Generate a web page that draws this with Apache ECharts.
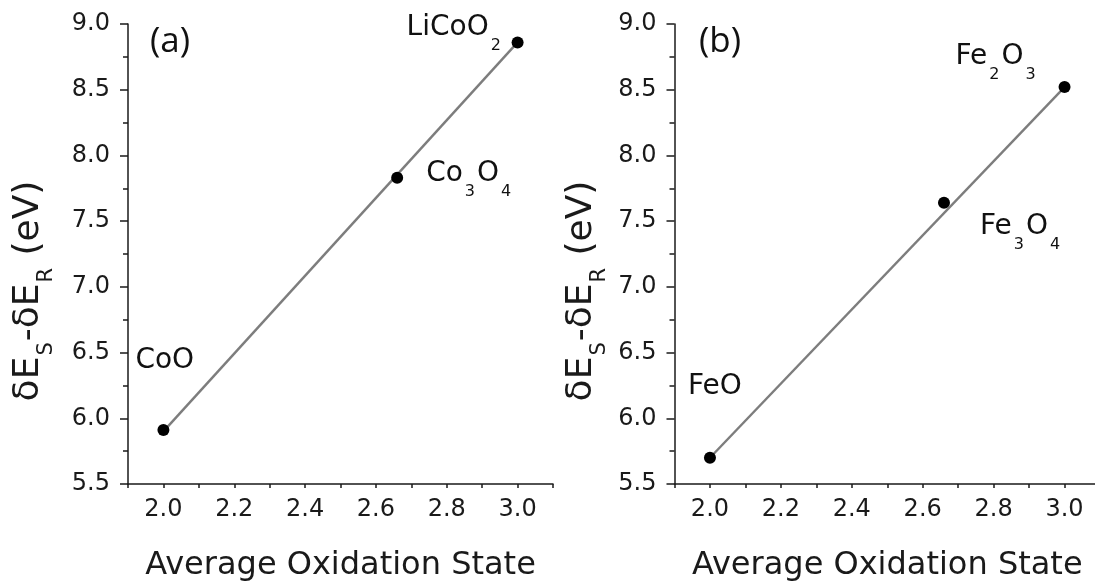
<!DOCTYPE html>
<html><head><meta charset="utf-8">
<script src="https://cdn.jsdelivr.net/npm/echarts@6/dist/echarts.min.js"></script>
<style>html,body{margin:0;padding:0;background:#fff}#c{width:1095px;height:586px}</style>
</head><body><div id="c"></div>
<script>
// ---- data ----
const oxidationA = [2.0, 2.66, 3.0];
const shiftA = [5.91, 7.83, 8.86];
const compoundsA = ['CoO', 'Co3O4', 'LiCoO2'];
const fitXA = [2.0, 3.0];
const fitYA = [5.90, 8.86];

const oxidationB = [2.0, 2.66, 3.0];
const shiftB = [5.70, 7.64, 8.52];
const compoundsB = ['FeO', 'Fe3O4', 'Fe2O3'];
const fitXB = [2.0, 3.0];
const fitYB = [5.70, 8.52];

const xTickLabels = ['2.0', '2.2', '2.4', '2.6', '2.8', '3.0'];
const yTickLabels = ['5.5', '6.0', '6.5', '7.0', '7.5', '8.0', '8.5', '9.0'];
const panelLabels = ['(a)', '(b)'];
const xTitle = 'Average Oxidation State';

// ---- styling / layout ----
const FONT = 'DejaVu Sans';
const TXT = '#1a1a1a';
const labelPosA = [[-22, -77], [35, -12], [-105, -23]];
const labelPosB = [[-16, -79], [42, 16], [-103, -38]];

function formula(name) {
  // digits become subscripts
  return name.replace(/([A-Za-z]+)|(\d+)/g, (m, a, d) => a ? '{m|' + a + '}' : '{s|' + d + '}');
}
const labelRich = {
  m: { fontFamily: FONT, fontSize: 28, lineHeight: 32, color: '#111', verticalAlign: 'top' },
  s: { fontFamily: FONT, fontSize: 16, lineHeight: 16, color: '#111', verticalAlign: 'top', padding: [24, 2, 0, 2] }
};

function xAxisCfg(idx) {
  return {
    type: 'value', gridIndex: idx, min: 1.9, max: 3.1, interval: 0.1,
    axisLine: { lineStyle: { color: TXT, width: 1.5 } },
    axisTick: { length: 4, lineStyle: { color: TXT, width: 1.5 } },
    splitLine: { show: false },
    axisLabel: {
      margin: 14, color: TXT, fontFamily: FONT, fontSize: 24,
      showMinLabel: true, showMaxLabel: true,
      formatter: v => { const s = v.toFixed(1); return xTickLabels.includes(s) ? s : ''; }
    },
    name: xTitle, nameLocation: 'middle', nameGap: 66,
    nameTextStyle: { color: TXT, fontFamily: FONT, fontSize: 32 }
  };
}
function yAxisCfg(idx) {
  return {
    type: 'value', gridIndex: idx, min: 5.5, max: 9.0, interval: 0.5,
    axisLine: { show: true, lineStyle: { color: TXT, width: 1.5 } },
    axisTick: { show: true, length: 8, lineStyle: { color: TXT, width: 1.5 } },
    minorTick: { show: true, splitNumber: 2, length: 5, lineStyle: { color: TXT, width: 1.5 } },
    splitLine: { show: false },
    axisLabel: {
      margin: 18, color: TXT, fontFamily: FONT, fontSize: 24,
      formatter: v => { const s = v.toFixed(1); return yTickLabels.includes(s) ? s : ''; }
    }
  };
}
function fitSeries(idx, xs, ys) {
  return {
    type: 'line', xAxisIndex: idx, yAxisIndex: idx, showSymbol: false, silent: true,
    data: xs.map((x, i) => [x, ys[i]]),
    lineStyle: { color: '#7d7d7d', width: 2.4 }, z: 2
  };
}
function pointSeries(idx, xs, ys, names, pos) {
  return {
    type: 'scatter', xAxisIndex: idx, yAxisIndex: idx, symbol: 'circle', symbolSize: 12,
    itemStyle: { color: '#000', opacity: 1 }, z: 3,
    data: xs.map((x, i) => ({
      value: [x, ys[i]], name: names[i],
      label: {
        show: true, position: pos[i], align: 'left', verticalAlign: 'top',
        formatter: formula(names[i]), rich: labelRich
      }
    }))
  };
}
const yTitleText = '{m|δE}{s|S}{m|-δE}{s|R}{m| (eV)}';
const yTitleRich = {
  m: { fontFamily: FONT, fontSize: 36, lineHeight: 40, fill: TXT, verticalAlign: 'top' },
  s: { fontFamily: FONT, fontSize: 21, lineHeight: 21, fill: TXT, verticalAlign: 'top', padding: [25, 1, 0, 1] }
};
function yTitle(x, y) {
  return {
    type: 'text', x: x, y: y, rotation: Math.PI / 2,
    style: { text: yTitleText, rich: yTitleRich, align: 'center', verticalAlign: 'top', fill: TXT }
  };
}
function panelLabel(text, x, y) {
  return {
    type: 'text', x: x, y: y,
    style: { text: text, fontFamily: 'Open Sans', fontSize: 35, fill: '#111', align: 'center', verticalAlign: 'middle' }
  };
}

const chart = echarts.init(document.getElementById('c'), null, { renderer: 'canvas' });
chart.setOption({
  backgroundColor: '#fff',
  animation: false,
  grid: [
    { left: 128, top: 24, width: 425, height: 460, outerBoundsMode: 'none' },
    { left: 674.5, top: 24, width: 425.5, height: 460, outerBoundsMode: 'none' }
  ],
  xAxis: [xAxisCfg(0), xAxisCfg(1)],
  yAxis: [yAxisCfg(0), yAxisCfg(1)],
  series: [
    fitSeries(0, fitXA, fitYA),
    pointSeries(0, oxidationA, shiftA, compoundsA, labelPosA),
    fitSeries(1, fitXB, fitYB),
    pointSeries(1, oxidationB, shiftB, compoundsB, labelPosB)
  ],
  graphic: [
    yTitle(11, 291),
    yTitle(564, 291),
    panelLabel(panelLabels[0], 170, 42),
    panelLabel(panelLabels[1], 720, 42)
  ]
});
</script></body></html>
